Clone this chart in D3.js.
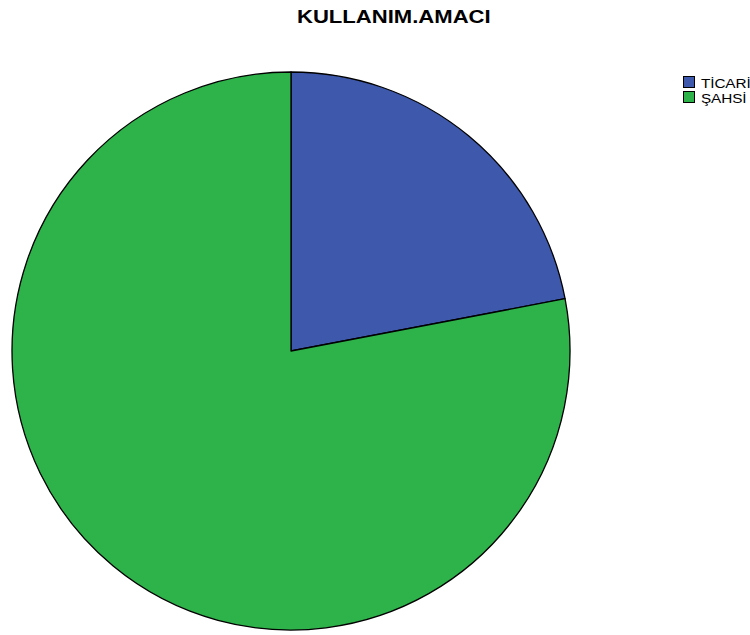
<!DOCTYPE html>
<html>
<head>
<meta charset="utf-8">
<script src="https://cdn.jsdelivr.net/npm/d3@7"></script>
<style>
  html, body { margin: 0; padding: 0; background: #fff; }
  svg { display: block; }
</style>
</head>
<body>
<svg id="chart" width="750" height="635"></svg>
<script>
// Usage purpose shares (percent)
const categories = ["TİCARİ", "ŞAHSİ"];
const values = [22, 78];
const colors = ["#3e58ac", "#2db34a"];

const svg = d3.select("#chart");
const font = "Liberation Sans, Arial, sans-serif";
// horizontal stretch of the wide heading/legend face
const stretch = 1.18;

svg.append("text")
  .attr("transform", `translate(297,22.5) scale(${stretch * 1.04},1)`)
  .attr("font-family", font)
  .attr("font-weight", "bold")
  .attr("font-size", 18)
  .text("KULLANIM.AMACI");

const cx = 291, cy = 351, r = 279;

const pie = d3.pie().sort(null).value(d => d.value);
const arc = d3.arc().innerRadius(0).outerRadius(r);

const data = categories.map((c, i) => ({ name: c, value: values[i], color: colors[i] }));

svg.append("g")
  .attr("transform", `translate(${cx},${cy})`)
  .selectAll("path")
  .data(pie(data))
  .join("path")
  .attr("d", arc)
  .attr("fill", d => d.data.color)
  .attr("stroke", "#000")
  .attr("stroke-width", 1.3)
  .attr("stroke-linejoin", "round");

const legend = svg.append("g").attr("transform", "translate(683,76)");
const items = legend.selectAll("g")
  .data(data)
  .join("g")
  .attr("transform", (d, i) => `translate(0,${i * 15})`);

items.append("rect")
  .attr("x", 0.5).attr("y", 0.5)
  .attr("width", 11).attr("height", 11)
  .attr("fill", d => d.color)
  .attr("stroke", "#000")
  .attr("stroke-width", 1);

items.append("text")
  .attr("transform", `translate(18,11.5) scale(${stretch},1)`)
  .attr("font-family", font)
  .attr("font-size", 13)
  .attr("letter-spacing", -0.1)
  .text(d => d.name);
</script>
</body>
</html>
